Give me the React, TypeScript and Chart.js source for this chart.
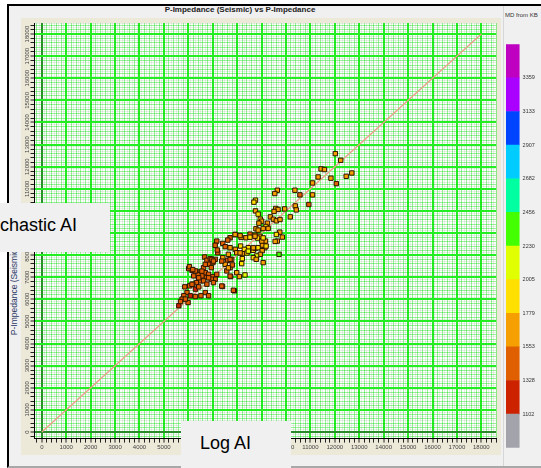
import React, { useEffect, useRef } from "react";
import { Chart, registerables } from "chart.js";

Chart.register(...registerables);

// ---- Data ----
const logAI = [
  12020, 12240, 11435, 11575, 11315, 11840, 12465, 12695, 12060, 11085,
  10570, 11085, 10365, 9645, 9540, 8750, 8685, 10935, 10380, 10420,
  9945, 10175, 9580, 9675, 9510, 8750, 8860, 9360, 9485, 9605,
  9755, 8945, 9000, 8890, 9240, 9175, 9270, 9065, 8770, 8860,
  9745, 9605, 9850, 9645, 9555, 8525, 8730, 8930, 8835, 8360,
  8160, 7925, 7710, 7615, 7165, 7100, 7410, 7510, 7710, 7925,
  8140, 8455, 8295, 7980, 8210, 8400, 8660, 8750, 8860, 9135,
  9035, 9185, 9025, 8945, 8795, 8660, 8780, 9065, 9715, 9160,
  9010, 7640, 7775, 7615, 7410, 7205, 7185, 7510, 7710, 7575,
  7735, 7980, 8090, 8320, 8185, 8210, 7805, 6665, 6760, 6900,
  7005, 7100, 6830, 6940, 6625, 6490, 6695, 6830, 7005, 7100,
  6940, 6735, 6555, 6395, 6220, 6150, 6015, 6290, 6490, 6625,
  6760, 6330, 6180, 6055, 6290, 6425, 6695, 6515, 6830, 7030,
  7400, 7885, 5855, 5945, 5815, 6085, 6290, 5745, 5990, 5610,
  5880, 5680, 6045, 6180, 7915, 8120, 8525, 8730, 9065, 8660,
  8455, 8120, 6965, 6695, 6555, 6425, 7030, 7370, 7640, 7710,
  7710, 7165, 6830, 6150, 7370, 7845,
];
const seismicAI = [
  12590, 12290, 11900, 11870, 11535, 11480, 11565, 11715, 11235, 11265,
  10725, 10725, 10935, 10935, 10785, 10485, 10395, 10290, 10225, 10045,
  10090, 9730, 10110, 10065, 9975, 10000, 9855, 9730, 9625, 9550,
  9610, 9625, 9535, 9445, 9445, 9295, 9205, 9205, 9190, 9130,
  9040, 8935, 8815, 8635, 8620, 8950, 8905, 8850, 8770, 8785,
  8800, 8935, 8785, 8680, 8635, 8445, 8530, 8380, 8335, 8260,
  8410, 8335, 8260, 8110, 8065, 8095, 8215, 8305, 8335, 8335,
  8455, 8410, 8200, 8035, 7960, 7885, 7810, 7660, 8035, 8635,
  8635, 8035, 7810, 7765, 7885, 8110, 8230, 7585, 7435, 7285,
  7030, 7205, 7030, 7105, 7615, 7840, 7555, 7915, 7765, 7840,
  7660, 7810, 7585, 7435, 7435, 7240, 7205, 7135, 7030, 6910,
  6910, 6985, 7060, 7105, 7060, 7315, 7390, 7285, 6835, 6835,
  6685, 6755, 6685, 6610, 6460, 6565, 6305, 6160, 6160, 6755,
  6580, 6385, 6565, 6305, 6160, 6160, 6125, 6010, 5855, 5710,
  6010, 5900, 7480, 7345, 8930, 8885, 8810, 8855, 8780, 8330,
  8180, 8100, 7805, 7580, 7275, 6975, 7730, 7730, 7425, 7805,
  7050, 7130, 6975, 6680, 6600, 6410,
];
const mdFromKB = [
  1650, 1700, 1650, 1650, 1600, 1650, 1700, 1650, 1500, 1600,
  1500, 1650, 1650, 1600, 1650, 1900, 1950, 1500, 1650, 1700,
  1600, 1650, 1650, 1700, 1600, 1750, 1850, 1650, 1600, 1700,
  1650, 1950, 1600, 1700, 1650, 1850, 1700, 1650, 1600, 1750,
  1650, 1900, 1700, 1650, 1600, 1550, 1700, 1650, 2000, 1750,
  1600, 1450, 1500, 1450, 1500, 1400, 1550, 1500, 1650, 1700,
  1800, 1950, 1800, 1650, 1750, 1850, 1900, 2000, 1950, 1700,
  1650, 1800, 1700, 1650, 2050, 2000, 1700, 1650, 2300, 1700,
  1650, 1650, 1600, 1500, 1650, 1450, 1500, 1600, 1650, 1500,
  1550, 1650, 1600, 2150, 1850, 1800, 1550, 1450, 1400, 1450,
  1400, 1500, 1350, 1450, 1400, 1450, 1400, 1450, 1500, 1400,
  1450, 1350, 1400, 1450, 1400, 1450, 1500, 1400, 1350, 1400,
  1450, 1400, 1350, 1400, 1300, 1400, 1450, 1400, 1500, 1450,
  1500, 1550, 1400, 1350, 1400, 1300, 1400, 1350, 1400, 1300,
  1450, 1350, 1450, 1400, 1600, 1650, 1850, 1700, 1900, 1750,
  2100, 1700, 1450, 1400, 1450, 1400, 1500, 1550, 1600, 1500,
  1450, 1500, 1400, 1350, 1450, 1500,
];
const oneToOneLine = [0, 18000];
const mdTickLabels = ["1102", "1328", "1553", "1779", "2005", "2230", "2456", "2682", "2907", "3133", "3359"];
const mdBoundaries = [1102, 1328, 1553, 1779, 2005, 2230, 2456, 2682, 2907, 3133, 3359];
const mdColors = [
  "#a3a3ab", "#cc2200", "#e06000", "#f5a000", "#ffe000", "#e0ff00",
  "#44ff00", "#00ffa0", "#00ccff", "#0044ff", "#aa00ff", "#c000c0",
];

const FONT = "'Liberation Sans', Arial, sans-serif";

function colorForMD(md: number): string {
  let idx = 0;
  for (const b of mdBoundaries) if (md >= b) idx++;
  return mdColors[idx];
}

function isMult(v: number, m: number): boolean {
  return Math.abs(Math.round(v / m) * m - v) < 1e-6;
}
function gridColor(v: number | undefined): string {
  if (v === undefined) return "rgba(0,0,0,0)";
  if (Math.abs(v) < 1e-6) return "#2a8a2a";
  if (isMult(v, 1000)) return "#22ee22";
  if (isMult(v, 200)) return "rgba(0,220,0,0.4)";
  return "rgba(100,170,100,0.16)";
}
function gridWidth(v: number | undefined): number {
  if (v === undefined) return 1;
  if (isMult(v, 1000)) return 2;
  return 1;
}
function tickColor(v: number | undefined): string {
  if (v === undefined) return "rgba(0,0,0,0)";
  if (isMult(v, 200)) return "#222";
  return "rgba(0,0,0,0)";
}

const plotBackground = {
  id: "plotBackground",
  beforeDraw(chart: any) {
    const { ctx, chartArea: a } = chart;
    ctx.save();
    ctx.fillStyle = "#ffffff";
    ctx.fillRect(a.left, a.top, a.right - a.left, a.bottom - a.top);
    ctx.restore();
  },
};

function CrossPlot() {
  const ref = useRef<HTMLCanvasElement | null>(null);
  useEffect(() => {
    if (!ref.current) return;
    const points = logAI.map((x, i) => ({ x, y: seismicAI[i] }));
    const colors = mdFromKB.map(colorForMD);
    const axisCommon = (isY: boolean) => ({
      type: "linear" as const,
      min: -300,
      max: isY ? 18500 : 18600,
      border: { display: true, color: "#000", width: 1 },
      grid: {
        color: (c: any) => gridColor(c.tick?.value),
        lineWidth: (c: any) => gridWidth(c.tick?.value),
        tickColor: (c: any) => tickColor(c.tick?.value),
        tickWidth: 1,
        tickLength: 4,
        drawTicks: true,
      },
      ticks: {
        stepSize: 100,
        autoSkip: false,
        color: "#444",
        font: { size: 6, family: FONT },
        callback: (v: any) => (isMult(v, 1000) && v >= 0 && v <= 18000 ? String(Math.round(v)) : ""),
      },
    });
    const xAxis: any = axisCommon(false);
    xAxis.ticks.maxRotation = 0;
    xAxis.ticks.minRotation = 0;
    xAxis.ticks.padding = 1;
    xAxis.afterFit = (s: any) => { s.height = 16.4; };
    const yAxis: any = axisCommon(true);
    yAxis.ticks.minRotation = 90;
    yAxis.ticks.maxRotation = 90;
    yAxis.ticks.crossAlign = "center";
    yAxis.ticks.padding = -4.8;
    yAxis.afterFit = (s: any) => { s.width = 13.5; };

    const chart = new Chart(ref.current, {
      type: "scatter",
      data: {
        datasets: [
          {
            type: "line",
            data: oneToOneLine.map((v) => ({ x: v, y: v })),
            borderColor: "#f09a88",
            borderWidth: 1.2,
            pointRadius: 0,
            showLine: true,
            order: 2,
          } as any,
          {
            type: "scatter",
            data: points,
            pointStyle: "rect",
            pointRadius: 3.1,
            pointBackgroundColor: colors,
            pointBorderColor: "#2e1400",
            pointBorderWidth: 1,
            order: 1,
          } as any,
        ],
      },
      options: {
        animation: false,
        responsive: false,
        events: [],
        layout: { padding: { top: 3, right: 1.4, left: 0, bottom: 0 } },
        plugins: { legend: { display: false }, tooltip: { enabled: false }, title: { display: false } },
        scales: { x: xAxis, y: yAxis },
      },
      plugins: [plotBackground],
    });
    return () => chart.destroy();
  }, []);
  return (
    <canvas
      ref={ref}
      width={480}
      height={437}
      style={{ position: "absolute", left: 21, top: 18, width: 480, height: 437, background: "#ece9d8" }}
    />
  );
}

function ColorBar() {
  const ref = useRef<HTMLCanvasElement | null>(null);
  useEffect(() => {
    if (!ref.current) return;
    const chart = new Chart(ref.current, {
      type: "bar",
      data: {
        labels: ["MD"],
        datasets: mdColors.map((c) => ({
          data: [1],
          backgroundColor: c,
          borderWidth: 0,
          barPercentage: 1,
          categoryPercentage: 1,
        })),
      },
      options: {
        animation: false,
        responsive: false,
        events: [],
        layout: { padding: { top: 2, bottom: 3, left: 3, right: 0 } },
        plugins: { legend: { display: false }, tooltip: { enabled: false } },
        scales: {
          x: { stacked: true, display: false },
          y: {
            stacked: true,
            position: "right",
            min: 0,
            max: 12,
            grid: { display: false, drawTicks: false },
            border: { display: false },
            afterFit: (s: any) => { s.width = 21.4; },
            ticks: {
              stepSize: 1,
              autoSkip: false,
              padding: 3,
              color: "#333",
              font: { size: 5.5, family: FONT },
              callback: (v: any) => (v >= 1 && v <= 11 ? mdTickLabels[v - 1] : ""),
            },
          } as any,
        },
      },
    });
    return () => chart.destroy();
  }, []);
  return (
    <canvas
      ref={ref}
      width={38}
      height={416}
      style={{ position: "absolute", left: 503, top: 38, width: 38, height: 416 }}
    />
  );
}

const boxText: React.CSSProperties = {
  position: "absolute",
  fontFamily: FONT,
  fontSize: 18,
  lineHeight: "18px",
  color: "#000",
  whiteSpace: "nowrap",
};

export default function App() {
  return (
    <div
      style={{
        position: "fixed",
        left: 0,
        top: 0,
        width: 541,
        height: 468,
        background: "#ffffff",
        overflow: "hidden",
        fontFamily: FONT,
      }}
    >
      <div
        style={{
          position: "absolute",
          left: 7,
          top: 4,
          width: 540,
          height: 460,
          background: "#f0f0f0",
          borderLeft: "2px solid #000",
          borderTop: "2px solid #000",
          borderBottom: "2px solid #a8a8a8",
        }}
      />
      <div style={{ position: "absolute", left: 503, top: 6, width: 1, height: 460, background: "#d6d6d6" }} />
      <div
        style={{
          position: "absolute",
          left: 140,
          top: 6,
          width: 200,
          textAlign: "center",
          fontWeight: "bold",
          fontSize: 8,
          lineHeight: "8px",
          color: "#222",
          whiteSpace: "nowrap",
        }}
      >
        P-Impedance (Seismic) vs P-Impedance
      </div>
      <div
        style={{
          position: "absolute",
          left: 505,
          top: 12,
          fontSize: 6,
          lineHeight: "6px",
          color: "#333",
          whiteSpace: "nowrap",
        }}
      >
        MD from KB
      </div>
      <CrossPlot />
      <div
        style={{
          position: "absolute",
          left: 14,
          top: 291,
          transform: "translate(-50%, -50%) rotate(-90deg)",
          fontSize: 8.5,
          lineHeight: "9px",
          color: "#2c3a66",
          whiteSpace: "nowrap",
        }}
      >
        P-Impedance (Seismic)
      </div>
      <ColorBar />
      <div style={{ position: "absolute", left: -40, top: 203, width: 150, height: 49, background: "#f0f0f0" }}>
        <span style={{ ...boxText, left: 13, top: 12.7 }}>Stochastic AI</span>
      </div>
      <div style={{ position: "absolute", left: 181, top: 421, width: 110, height: 47, background: "#f0f0f0" }}>
        <span style={{ ...boxText, left: 19, top: 12.7 }}>Log AI</span>
      </div>
    </div>
  );
}
